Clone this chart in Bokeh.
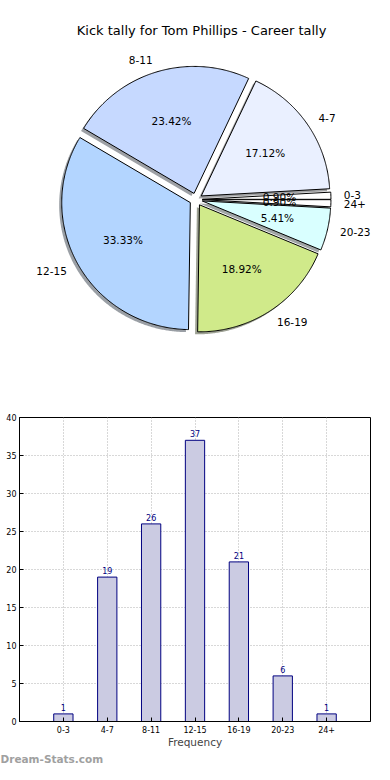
import numpy as np
from bokeh.plotting import figure
from bokeh.layouts import column
from bokeh.models import Range1d, FixedTicker, Label, ColumnDataSource, Title
from bokeh.core.properties import value
from bokeh.embed import file_html
from bokeh.resources import INLINE

# ---------------- data ----------------
title = "Kick tally for Tom Phillips - Career tally"
categories = ["0-3", "4-7", "8-11", "12-15", "16-19", "20-23", "24+"]
counts = [1, 19, 26, 37, 21, 6, 1]
pie_colors = ["#ffffff", "#eaf0ff", "#c6d9ff", "#b3d5ff", "#d0ea8a", "#d9ffff", "#ffffff"]
x_label = "Frequency"
y_ticks = [0, 5, 10, 15, 20, 25, 30, 35, 40]
watermark = "Dream-Stats.com"

FONT = value("DejaVu Sans")
W, H1, H2 = 374, 393, 371

# ---------------- pie ----------------
pie = figure(width=W, height=H1, x_range=Range1d(0, W), y_range=Range1d(H1, 0),
             output_backend="svg", toolbar_location=None,
             x_axis_location=None, y_axis_location=None, min_border=0,
             outline_line_color=None)
pie.grid.grid_line_color = None

CX, CY, RX, RY = 188.0, 199.0, 137.0, 127.0
EXP, SH = 0.05, 0.02
total = float(sum(counts))
fracs = [c / total for c in counts]
starts = np.concatenate([[0.0], np.cumsum(fracs)[:-1]]) * 2 * np.pi
ends = np.cumsum(fracs) * 2 * np.pi

wx, wy, sx, sy, shadow_cols = [], [], [], [], []
lab_x, lab_y, lab_align, pct_x, pct_y, pct_txt = [], [], [], [], [], []
for a0, a1, c, col in zip(starts, ends, counts, pie_colors):
    m = 0.5 * (a0 + a1)
    ox = CX + EXP * RX * np.cos(m)
    oy = CY - EXP * RY * np.sin(m)
    n = max(4, int(np.degrees(a1 - a0) * 2))
    t = np.linspace(a0, a1, n)
    xs = [ox] + list(ox + RX * np.cos(t))
    ys = [oy] + list(oy - RY * np.sin(t))
    wx.append(xs)
    wy.append(ys)
    sx.append([v - SH * RX for v in xs])
    sy.append([v + SH * RY for v in ys])
    h = col.lstrip("#")
    r, g, b = (int(h[i:i + 2], 16) for i in (0, 2, 4))
    shadow_cols.append("#%02x%02x%02x" % (int(r * 0.3), int(g * 0.3), int(b * 0.3)))
    lab_x.append(ox + 1.1 * RX * np.cos(m))
    lab_y.append(oy - 1.1 * RY * np.sin(m))
    lab_align.append("left" if np.cos(m) > 0 else "right")
    pct_x.append(ox + 0.6 * RX * np.cos(m))
    pct_y.append(oy - 0.6 * RY * np.sin(m))
    pct_txt.append("%.2f%%" % (100.0 * c / total))

pie.patches(sx, sy, fill_color=shadow_cols, fill_alpha=0.5, line_color=None)
pie.patches(wx, wy, fill_color=pie_colors, line_color="black", line_width=1)

lab_src = ColumnDataSource(dict(x=lab_x, y=lab_y, t=categories, a=lab_align))
pie.text(x="x", y="y", text="t", text_align="a", text_baseline="middle", source=lab_src,
         text_font=FONT, text_font_size="10.5px", text_color="black")
pct_src = ColumnDataSource(dict(x=pct_x, y=pct_y, t=pct_txt))
pie.text(x="x", y="y", text="t", text_align="center", text_baseline="middle", source=pct_src,
         text_font=FONT, text_font_size="10.5px", text_color="black")

pie.add_layout(Label(x=194, y=30, text=title, text_align="center", text_baseline="middle",
                     text_font="DejaVu Sans", text_font_size="13px", text_color="black"))

# ---------------- bar chart ----------------
xpos = list(range(1, len(categories) + 1))
bar = figure(width=W, height=H2, x_range=Range1d(0, len(categories) + 1), y_range=Range1d(0, 40),
             output_backend="svg", toolbar_location=None,
             min_border_left=19, min_border_right=4, min_border_top=24, min_border_bottom=20)
bar.outline_line_color = "black"
bar.outline_line_width = 1

bar.vbar(x=xpos, top=counts, width=0.44, fill_color="#cbcbe2", line_color="#000080", line_width=1)
bar.text(x=xpos, y=counts, text=[str(c) for c in counts], text_align="center",
         text_baseline="bottom", y_offset=-3, text_font=FONT, text_font_size="8px",
         text_color="#000080")

bar.xaxis.ticker = FixedTicker(ticks=xpos)
bar.xaxis.major_label_overrides = {i: c for i, c in zip(xpos, categories)}
bar.yaxis.ticker = FixedTicker(ticks=y_ticks)
for ax in (bar.xaxis, bar.yaxis):
    ax.major_tick_in = 4
    ax.major_tick_out = 0
    ax.minor_tick_line_color = None
    ax.axis_line_color = "black"
    ax.major_label_text_font = "DejaVu Sans"
    ax.major_label_text_font_size = "8px"
    ax.major_label_text_color = "black"
    ax.major_label_standoff = 3
bar.xaxis.major_label_standoff = 4
bar.xaxis.axis_label = x_label
bar.xaxis.axis_label_text_font = "DejaVu Sans"
bar.xaxis.axis_label_text_font_size = "10.5px"
bar.xaxis.axis_label_text_font_style = "normal"
bar.xaxis.axis_label_standoff = 0

bar.xgrid.ticker = FixedTicker(ticks=xpos + [len(categories) + 1])
bar.grid.grid_line_color = "#b0b0b0"
bar.grid.grid_line_dash = "1 2"
bar.grid.grid_line_width = 1

bar.add_layout(Title(text=watermark, align="left", offset=-19, standoff=0,
                     text_font="DejaVu Sans", text_font_size="10.5px",
                     text_font_style="bold", text_color="#a0a0a0"), "below")

layout = column(pie, bar)
open("out.html", "w").write(file_html(layout, INLINE))
